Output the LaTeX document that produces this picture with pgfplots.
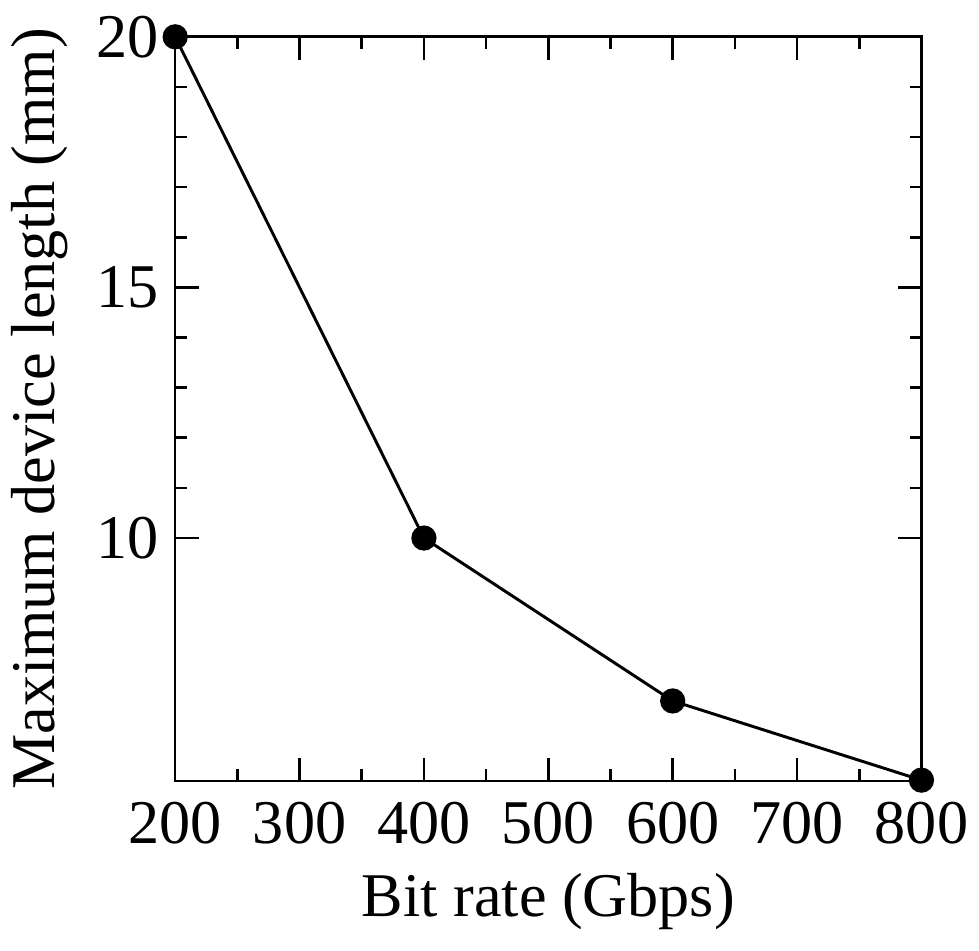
\documentclass[border=0pt]{standalone}
\usepackage{pgfplots}
\pgfplotsset{compat=1.18}
\usepackage{fontspec}
\setmainfont{Liberation Serif}
\begin{document}
\begin{tikzpicture}
\begin{axis}[
    scale only axis,
    width=228pt, height=227.4pt,
    xmin=200, xmax=800,
    ymin=5.15, ymax=20,
    xtick={200,300,...,800},
    ytick={10,15,20},
    minor x tick num=1,
    minor y tick num=4,
    major tick length=7.2pt,
    minor tick length=3.6pt,
    tick style={line width=0.8pt, black},
    axis line style={line width=0.8pt},
    tick label style={font=\fontsize{19}{22}\selectfont},
    label style={font=\fontsize{19}{22}\selectfont},
    /pgf/number format/assume math mode=true,
    xlabel={Bit rate (Gbps)},
    ylabel={Maximum device length (mm)},
    ylabel style={yshift=2pt},
    xticklabel style={yshift=-3pt},
    yticklabel style={xshift=-1.5pt},
    xlabel style={yshift=-2pt},
    clip=false,
]
\addplot[black, line width=0.9pt, mark=*, mark size=3.4pt] coordinates {
    (200,20) (400,10) (600,6.75) (800,5.17)
};
\end{axis}
\path ([yshift=1.5pt]current bounding box.north) ([yshift=-3pt]current bounding box.south);
\end{tikzpicture}
\end{document}
